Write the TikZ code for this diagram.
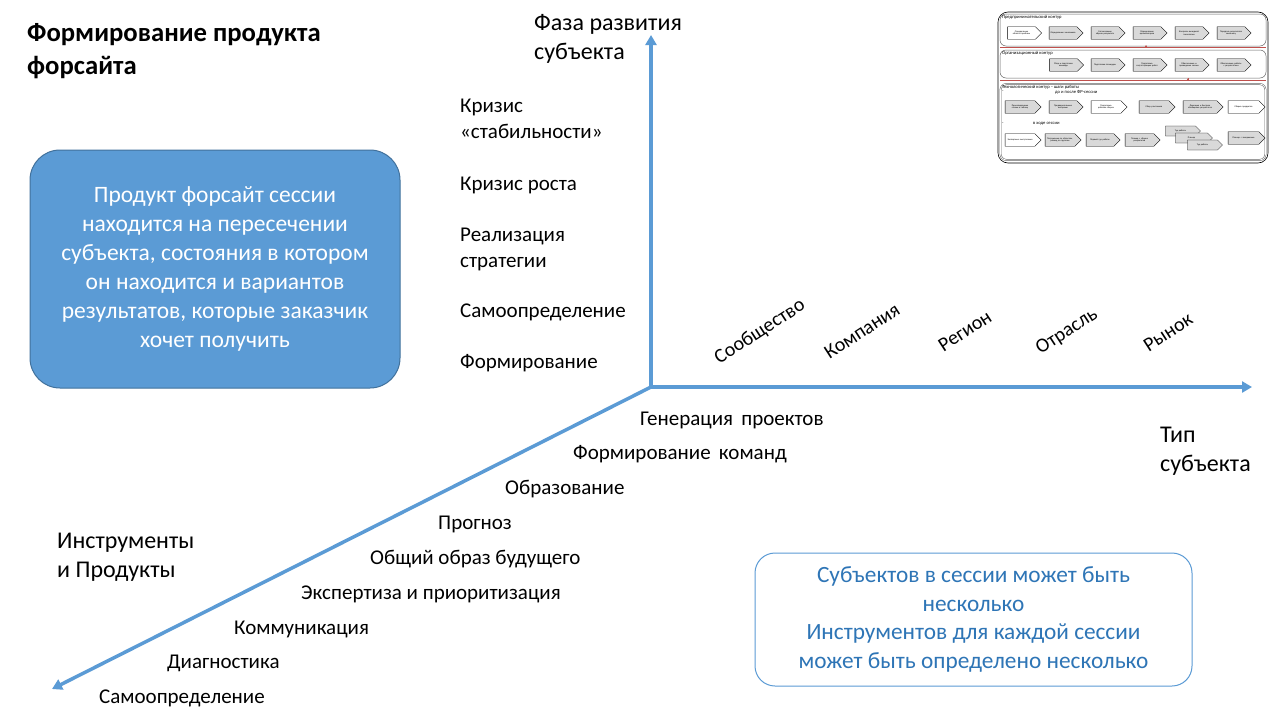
\documentclass[tikz,border=0pt]{standalone}
\usepackage{fontspec}
\setmainfont{Carlito}
\usetikzlibrary{arrows.meta,shapes.symbols}
\definecolor{axisblue}{HTML}{5B9BD5}
\definecolor{boxedge}{HTML}{41719C}
\definecolor{textblue}{HTML}{2E75B6}
\definecolor{chevgray}{HTML}{D9D9D9}
\definecolor{redline}{HTML}{C0504D}
\tikzset{
  axis/.style={draw=axisblue, line width=3.5pt, -{Triangle[width=11pt,length=10pt]}},
  lbl/.style={font=\fontsize{21}{26}\selectfont, anchor=west, inner sep=0pt},
  atitle/.style={font=\fontsize{24}{29}\selectfont, anchor=north west, align=left, inner sep=0pt},
  ilbl/.style={font=\fontsize{21}{25}\selectfont, anchor=west, inner sep=0pt},
  rlbl/.style={font=\fontsize{20}{24}\selectfont, rotate=33, inner sep=0pt},
  chev/.style={signal, signal to=east, draw=black, line width=0.3pt, fill=chevgray,
    minimum width=34pt, minimum height=12.5pt, inner sep=0.3pt, text width=26pt,
    align=center, font=\fontsize{2.3}{2.6}\selectfont},
  chevw/.style={chev, fill=white},
  contour/.style={draw=gray!80!black, line width=0.5pt, rounded corners=6pt},
  ctitle/.style={font=\fontsize{4.6}{5}\selectfont, anchor=north west, inner sep=0pt},
}
\begin{document}
\begin{tikzpicture}[x=1pt,y=-1pt]
\useasboundingbox (0,0) rectangle (1280,720);
\fill[white] (0,0) rectangle (1280,720);

% title
\node[font=\bfseries\fontsize{26.7}{33}\selectfont, anchor=north west, align=left, inner sep=0pt] (title) at (27,23)
  {Формирование продукта\\форсайта};

% blue box
\node[draw=boxedge, line width=1pt, fill=axisblue, rounded corners=30pt, minimum width=370pt, minimum height=238pt,
  text=white, align=center, font=\fontsize{23.5}{29}\selectfont] (product) at (215,269)
  {Продукт форсайт сессии\\находится на пересечении\\субъекта, состояния в котором\\он находится и вариантов\\результатов, которые заказчик\\хочет получить};

% axes
\coordinate (O) at (651,387);
\coordinate (top) at (651,35);
\coordinate (right) at (1252,387);
\coordinate (dl) at (52,689);
\draw[axis] (O) -- (top);
\draw[axis] (O) -- (right);
\draw[axis] (O) -- (dl);

% axis titles
\node[atitle] (phase) at (534,14) {Фаза развития\\субъекта};
\node[atitle] (type) at (1160,427) {Тип\\субъекта};
\node[atitle] (instr) at (57,533) {Инструменты\\и Продукты};

% phase labels
\node[lbl, align=left, anchor=north west] (k1) at (460,99) {Кризис\\«стабильности»};
\node[lbl] (k2) at (460,185) {Кризис роста};
\node[lbl, align=left, anchor=north west] (k3) at (460,228) {Реализация\\стратегии};
\node[lbl] (k4) at (460,312) {Самоопределение};
\node[lbl] (k5) at (460,363) {Формирование};

% subject types
\node[rlbl] (s1) at (760,332) {Сообщество};
\node[rlbl] (s2) at (862,331) {Компания};
\node[rlbl] (s3) at (965,331) {Регион};
\node[rlbl] (s4) at (1067,332) {Отрасль};
\node[rlbl] (s5) at (1168,332) {Рынок};

% instruments
\node[ilbl] (i1) at (640,420) {Генерация\, проектов};
\node[ilbl] (i2) at (573,454) {Формирование\, команд};
\node[ilbl] (i3) at (505,489) {Образование};
\node[ilbl] (i4) at (438,524) {Прогноз};
\node[ilbl] (i5) at (370,559) {Общий образ будущего};
\node[ilbl] (i6) at (301,594) {Экспертиза и приоритизация};
\node[ilbl] (i7) at (234,629) {Коммуникация};
\node[ilbl] (i8) at (167,663) {Диагностика};
\node[ilbl] (i9) at (99,698) {Самоопределение};

% note box
\node[draw=axisblue, line width=1pt, rounded corners=20pt, minimum width=437pt, minimum height=133pt,
  text=textblue, align=center, font=\fontsize{23.3}{28.7}\selectfont] (note) at (973.5,619.5)
  {Субъектов в сессии может быть\\несколько\\Инструментов для каждой сессии\\может быть определено несколько};

% ---------- thumbnail ----------
\node[draw=black, line width=0.6pt, rounded corners=10pt, minimum width=270pt, minimum height=151pt] (thumb) at (1133,87.5) {};
\node[contour, minimum width=266pt, minimum height=32pt] (c1) at (1133,30) {};
\node[contour, minimum width=266pt, minimum height=28pt] (c2) at (1133,64) {};
\node[contour, double, double distance=0.8pt, minimum width=265pt, minimum height=76pt] (c3) at (1133,122) {};
\node[ctitle] (c1t) at (1002,15.5) {Предпринимательский контур};
\node[ctitle] (c2t) at (1002,51) {Организационный контур};
\node[ctitle] (c3t) at (1002,85) {Технологический контур – шаги работы};
\node[ctitle] (c3a) at (1002,90.5) {-};
\node[ctitle] (c3b) at (1055,90.5) {до и после ФР-сессии};
\node[ctitle] (c3c) at (1002,122.5) {-};
\node[ctitle] (c3d) at (1033,122.5) {в ходе сессии};

\coordinate (r1l) at (1000,47.5); \coordinate (r1r) at (1266,47.5); \coordinate (r1m) at (1146,45);
\coordinate (r2l) at (1000,80.5); \coordinate (r2r) at (1266,80.5); \coordinate (r2m) at (1188,78);
\draw[redline, line width=0.8pt] (r1l) -- (r1r);
\draw[redline, line width=0.8pt] (r2l) -- (r2r);
\draw[redline, line width=0.6pt, -{Triangle[width=2pt,length=2pt]}] (c1.south -| r1m) -- (r1m);
\draw[redline, line width=0.6pt, -{Triangle[width=2pt,length=2pt]}] (c2.south -| r2m) -- (r2m);

% row 1
\node[chevw] (a1) at (1021.5,33) {Определение области проблем};
\node[chev] (a2) at (1063,33) {Определение заказчиков};
\node[chev] (a3) at (1105,33) {Согласование образа результата};
\node[chev] (a4) at (1147,33) {Определение организаторов};
\node[chev] (a5) at (1189,33) {Контроль выходной технологии};
\node[chev] (a6) at (1231,33) {Передача результатов заказчику};
% row 2
\node[chev] (b1) at (1063.5,65) {Сбор и подготовка команды};
\node[chev] (b2) at (1105,65) {Подготовка площадки};
\node[chev] (b3) at (1147,65) {Подготовка сопутствующих работ};
\node[chev] (b4) at (1189,65) {Обеспечение и проведение сессии};
\node[chev] (b5) at (1231,65) {Обеспечение работы с результатами};
% row 3
\node[chev, minimum width=36pt] (d1) at (1020,107) {Проектирование сессии и таблиц};
\node[chev] (d2) at (1063,107) {Предварительные интервью};
\node[chevw, minimum width=36pt] (d3) at (1106,107) {Подготовка рабочих сборок};
\node[chev, minimum width=36pt] (d4) at (1154,107) {Сбор участников};
\node[chev, minimum width=40pt, text width=30pt] (d5) at (1200,107) {Фиксация и быстрое обобщение результатов};
\node[chevw, minimum width=37pt] (d6) at (1243.5,107) {Сборка продуктов};
% row 4
\node[chevw, minimum width=36pt] (e1) at (1020,140) {Экспертные выступления};
\node[chev, minimum width=36pt] (e2) at (1060,140) {Погружение по областям, развод по группам};
\node[chev] (e3) at (1100,140) {Первый тур работы};
\node[chev, minimum width=35pt] (e4) at (1139.5,140) {Пленар + сборка результатов};
\node[chev, minimum width=35pt, minimum height=10pt] (e5) at (1180.5,131) {Тур работы};
\node[chev, minimum width=37pt, minimum height=10pt] (e6) at (1191.5,138) {Пленар};
\node[chev, minimum width=35pt, minimum height=10pt] (e7) at (1202.5,145) {Тур работы};
\node[chev, minimum width=37pt] (e8) at (1243.5,138) {Пленар + завершение};
\end{tikzpicture}
\end{document}
